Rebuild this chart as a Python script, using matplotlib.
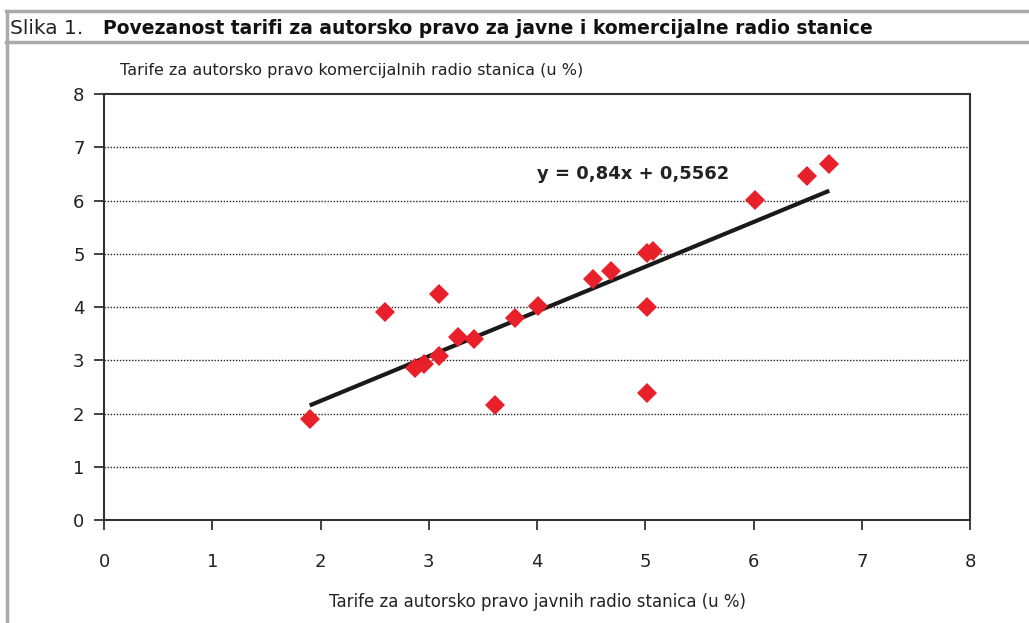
import matplotlib.pyplot as plt
from matplotlib.lines import Line2D

# tarife javnih (x) i komercijalnih (y) radio stanica, u %
javne = [1.9, 2.6, 3.09, 2.87, 2.96, 3.09, 3.27, 3.42, 3.61, 3.8,
         4.01, 4.52, 4.68, 5.02, 5.07, 5.02, 5.02, 6.01, 6.49, 6.7]
komercijalne = [1.9, 3.9, 4.24, 2.85, 2.93, 3.08, 3.44, 3.4, 2.16, 3.79,
                4.02, 4.53, 4.68, 5.01, 5.05, 4.0, 2.38, 6.01, 6.46, 6.69]
nagib = 0.84
odsjecak = 0.5562
ticks = [0, 1, 2, 3, 4, 5, 6, 7, 8]

plt.rcParams['font.family'] = ['DejaVu Sans']

fig = plt.figure(figsize=(10.29, 6.23), dpi=100)
ax = fig.add_axes([0.1011, 0.1653, 0.8416, 0.6838])

ax.plot(javne, komercijalne, 'D', color='#e8202a', markersize=10.5,
        markeredgewidth=0, zorder=3)
xs = [min(javne), max(javne)]
ax.plot(xs, [nagib * x + odsjecak for x in xs], color='#1a1a1a', lw=3,
        solid_capstyle='butt', zorder=2)

ax.set_xlim(0, 8)
ax.set_ylim(0, 8)
ax.set_xticks(ticks)
ax.set_yticks(ticks)
ax.tick_params(direction='out', length=7, width=1.3, color='#333333',
               labelsize=13, labelcolor='#222222')
ax.tick_params(axis='x', pad=17)
ax.tick_params(axis='y', pad=7)
for s in ax.spines.values():
    s.set_color('#333333')
    s.set_linewidth(1.5)
for t in ticks[1:-1]:
    ax.axhline(t, color='#222222', lw=1, ls=(0, (1, 1.2)), zorder=1)

ax.text(4.0, 6.5, 'y = 0,84x + 0,5562', fontsize=13, fontweight='bold',
        color='#222222', va='center', ha='left')

fig.text(0.117, 0.887, 'Tarife za autorsko pravo komercijalnih radio stanica (u %)',
         fontsize=11.5, color='#222222', va='center')
fig.text(0.522, 0.034, 'Tarife za autorsko pravo javnih radio stanica (u %)',
         fontsize=12, color='#222222', va='center', ha='center')

# okvir naslova
siva = '#aaaaaa'
fig.add_artist(Line2D([0.006, 1], [1 - 11 / 623] * 2, color=siva, lw=2.5))
fig.add_artist(Line2D([0.006, 1], [1 - 42 / 623] * 2, color=siva, lw=2.5))
fig.add_artist(Line2D([0.0068, 0.0068], [0, 1 - 11 / 623], color=siva, lw=2.5))
fig.text(0.01, 1 - 28 / 623, 'Slika 1.', fontsize=14.5, color='#222222', va='center')
fig.text(0.1, 1 - 28 / 623,
         'Povezanost tarifi za autorsko pravo za javne i komercijalne radio stanice',
         fontsize=13.5, fontweight='bold', color='#111111', va='center')

fig.savefig('out.png', dpi=100)
